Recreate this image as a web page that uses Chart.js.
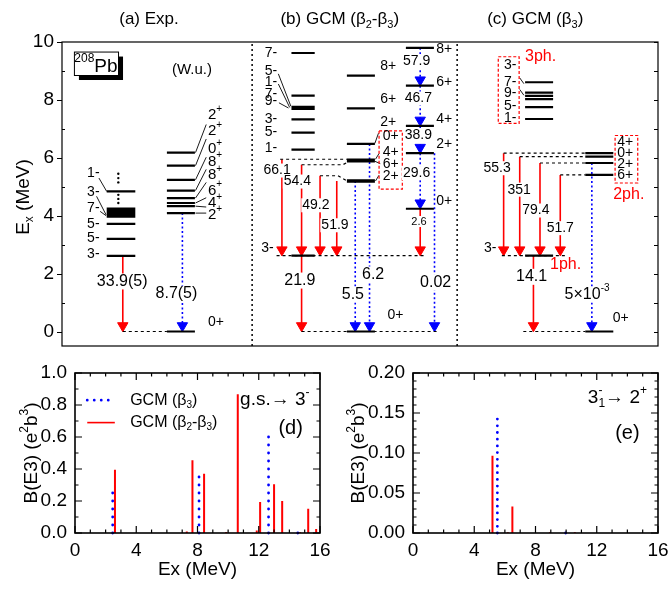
<!DOCTYPE html>
<html>
<head>
<meta charset="utf-8">
<script src="https://cdn.jsdelivr.net/npm/chart.js@4.4.0/dist/chart.umd.min.js"></script>
<style>
  body { margin: 0; background: #fff; width: 669px; height: 589px; position: relative; overflow: hidden; }
  canvas { position: absolute; }
</style>
</head>
<body>
<canvas id="scheme" width="669" height="352" style="left:0;top:0"></canvas>
<canvas id="gsE3" width="340" height="239" style="left:0;top:350px"></canvas>
<canvas id="e3to2" width="329" height="239" style="left:340px;top:350px"></canvas>
<script>
const FONT = '"Liberation Sans", Arial, sans-serif';
Chart.defaults.font.family = FONT;
Chart.defaults.color = '#000';

// ---------- level energies (MeV) ----------
const octE = 2.62;                       // 3-_1 state in every column
const expNegE = [2.61, 3.20, 3.72, 3.97, 4.04, 4.11, 4.18, 4.25, 4.84];
const expPosE = [4.09, 4.33, 4.44, 4.61, 4.87, 5.24, 5.73, 6.18];
const expDotsE = [5.45, 5.30, 5.15, 4.72, 4.58, 4.44];
const b23NegE = [9.62, 8.15, 7.76, 7.69, 7.33, 6.87, 6.28];
const b23MidE = [8.84, 7.71, 6.48, 5.94, 5.88, 5.22, 5.18];
const b23BandE = [9.80, 8.49, 7.10, 6.16, 4.24];   // 8+ 6+ 4+ 2+ 0+
const b3NegE = [8.61, 8.25, 8.14, 8.03, 7.75, 7.34];
const b3PosE = [6.16, 6.04, 5.82, 5.41];           // 4+ 0+ 2+ 6+

// ---------- transitions ----------
// [x column, E from, E to]
const redArrows = [
  [10.2, 2.61, 0],
  [36.9, 5.95, octE], [40.2, 5.76, octE], [43.3, 5.38, octE], [46.1, 5.20, octE],
  [40.2, octE, 0], [60.1, 4.24, octE],
  [74.1, 6.16, octE], [76.8, 6.04, octE], [80.2, 5.82, octE], [83.6, 5.41, octE],
  [79.1, octE, 0]
];
const blueArrows = [
  [20.2, 4.09, 0],
  [49.2, 5.20, 0], [51.6, 6.48, 0],
  [60.1, 9.80, 8.49], [60.1, 8.49, 7.10], [60.1, 7.10, 6.16], [60.1, 6.16, 4.24],
  [62.5, 6.16, 0],
  [88.9, 5.82, 0]
];

// ---------- B(E3) strengths (lower panels) ----------
const gsB3X  = [2.46, 8.10, 12.64, 14.55];
const gsB3Y  = [0.256, 0.39, 0.63, 0.025];
const gsB23X = [2.61, 7.30, 7.67, 8.43, 9.87, 10.63, 11.87, 12.09, 13.00, 13.53, 14.70, 15.23, 15.75];
const gsB23Y = [0.396, 0.010, 0.454, 0.370, 0.006, 0.867, 0.015, 0.194, 0.304, 0.200, 0.005, 0.152, 0.025];
const e3B3X  = [5.51, 9.97];
const e3B3Y  = [0.148, 0.0015];
const e3B23X = [5.19, 6.19, 6.49, 8.94, 10.57];
const e3B23Y = [0.0967, 0.001, 0.033, 0.001, 0.001];

const schemeTicks = [0, 2, 4, 6, 8, 10];
const exTicks = [0, 4, 8, 12, 16];
const gsTicks = [0, 0.2, 0.4, 0.6, 0.8, 1.0];
const e3Ticks = [0, 0.05, 0.10, 0.15, 0.20];

// ---------- layout of the level scheme (x in column units 0..100) ----------
const cols = {
  aNeg: [7.5, 12.3], aPos: [17.6, 22.3],
  bNeg: [38.5, 42.4], bMid: [47.8, 52.5], bBand: [57.7, 62.4],
  cNeg: [77.7, 82.4], cPos: [87.8, 92.5]
};
function lv(col, list) { return list.map(e => [[col[0], e], [col[1], e]]); }
function segs(polys) {
  const out = [];
  polys.forEach(p => {
    p.forEach(q => out.push({ x: q[0], y: q[1] }));
    out.push({ x: p[p.length - 1][0], y: null });
  });
  return out;
}

const levelLines = [].concat(
  lv(cols.aNeg, expNegE), lv(cols.aPos, expPosE), lv(cols.aPos, [0]),
  lv(cols.bNeg, b23NegE), lv(cols.bNeg, [octE]), lv(cols.bMid, b23MidE), lv(cols.bMid, [0]),
  lv(cols.bBand, b23BandE),
  lv(cols.cNeg, b3NegE), lv(cols.cNeg, [octE]), lv(cols.cPos, b3PosE), lv(cols.cPos, [0])
);
const dashedLines = [
  [[10.2, 0], [17.6, 0]],
  [[36.6, 5.95], [47.8, 5.95]],
  [[40.2, 5.76], [47.1, 5.76], [48.2, 5.88]],
  [[43.3, 5.38], [46.3, 5.38], [47.8, 5.20]],
  [[36.0, octE], [60.9, octE]],
  [[40.2, 0], [62.9, 0]],
  [[74.1, 6.16], [87.8, 6.16]], [[76.8, 6.04], [87.8, 6.04]],
  [[80.2, 5.82], [87.8, 5.82]], [[83.6, 5.41], [87.8, 5.41]],
  [[73.8, octE], [84.7, octE]],
  [[77.4, 0], [87.8, 0]]
];
const leaderLines = [
  [[6.2, 5.30], [7.5, 4.84]], [[5.8, 4.67], [7.4, 4.03]], [[6.4, 4.15], [7.4, 4.00]],
  [[22.4, 4.09], [24.2, 4.09]], [[22.4, 4.33], [24.2, 4.30]], [[22.4, 4.44], [24.2, 4.62]],
  [[22.4, 4.61], [24.2, 5.15]], [[22.4, 4.87], [24.2, 5.60]], [[22.4, 5.24], [24.2, 6.02]],
  [[22.4, 5.73], [24.2, 6.65]], [[22.4, 6.18], [24.2, 7.15]],
  [[36.3, 8.90], [38.4, 7.78]], [[36.3, 8.55], [38.2, 7.74]], [[36.4, 7.90], [38.0, 7.72]],
  [[52.5, 6.50], [53.1, 6.85]], [[52.6, 5.95], [53.2, 6.15]], [[52.5, 5.88], [53.4, 5.80]],
  [[52.6, 5.20], [53.2, 5.40]],
  [[76.8, 8.76], [77.5, 8.56]], [[76.8, 8.36], [77.5, 8.16]]
];
const separators = [[[31.9, -0.5], [31.9, 10]], [[66.3, -0.5], [66.3, 10]]];
const redBoxes = [[53.2, 57.1, 6.93, 4.92], [73.2, 76.7, 9.49, 7.19], [92.8, 96.6, 6.77, 5.13]]
  .map(b => [[b[0], b[2]], [b[1], b[2]], [b[1], b[3]], [b[0], b[3]], [b[0], b[2]]]);

const HEAD = 0.2;
const shaft = list => segs(list.map(a => [[a[0], a[1]], [a[0], a[2] + HEAD]]));
const heads = list => list.map(a => ({ x: a[0], y: a[2] + HEAD }));

// text: [string, x, E, size, align, color, whiteBg]
const schemeText = [
  ['(a) Exp.', 14.6, 10.77, 17, 'center'],
  ['(b) GCM (β_{2}-β_{3})', 46.6, 10.77, 17, 'center'],
  ['(c) GCM (β_{3})', 79.4, 10.77, 17, 'center'],
  ['(W.u.)', 21.8, 9.03, 15, 'center'],
  ['3-', 6.3, 2.66, 14, 'right'], ['5-', 6.3, 3.21, 14, 'right'], ['5-', 6.3, 3.71, 14, 'right'],
  ['7-', 6.3, 4.27, 14, 'right'], ['3-', 6.3, 4.80, 14, 'right'], ['1-', 6.3, 5.47, 14, 'right'],
  ['2^{+}', 24.5, 4.03, 15, 'left'], ['4^{+}', 24.5, 4.44, 15, 'left'], ['6^{+}', 24.5, 4.87, 15, 'left'],
  ['8^{+}', 24.5, 5.41, 15, 'left'], ['8^{+}', 24.5, 5.87, 15, 'left'], ['0^{+}', 24.5, 6.30, 15, 'left'],
  ['2^{+}', 24.5, 6.93, 15, 'left'], ['2^{+}', 24.5, 7.48, 15, 'left'],
  ['0+', 24.5, 0.32, 14, 'left'],
  ['33.9(5)', 10.1, 1.73, 16, 'center', '#000', true],
  ['8.7(5)', 19.2, 1.31, 16, 'center', '#000', true],
  ['7-', 36.1, 9.60, 14, 'right'], ['5-', 36.1, 8.98, 14, 'right'], ['1-', 36.1, 8.63, 14, 'right'],
  ['7-', 36.1, 8.20, 14, 'right'], ['9-', 36.1, 7.95, 14, 'right'], ['3-', 36.1, 7.33, 14, 'right'],
  ['5-', 36.1, 6.90, 14, 'right'], ['1-', 36.1, 6.32, 14, 'right'],
  ['3-', 35.5, 2.89, 14, 'right'],
  ['8+', 53.4, 9.15, 14, 'left'], ['6+', 53.4, 8.03, 14, 'left'], ['2+', 53.4, 7.22, 14, 'left'],
  ['0+', 53.8, 6.74, 14, 'left'], ['4+', 53.8, 6.20, 14, 'left'], ['6+', 53.8, 5.78, 14, 'left'],
  ['2+', 53.8, 5.36, 14, 'left'],
  ['0+', 54.6, 0.55, 14, 'left'],
  ['8+', 62.8, 9.76, 14, 'left'], ['6+', 62.8, 8.61, 14, 'left'], ['4+', 62.8, 7.34, 14, 'left'],
  ['2+', 62.8, 6.48, 14, 'left'], ['0+', 62.8, 4.49, 14, 'left'],
  ['66.1', 36.1, 5.56, 14, 'center', '#000', true], ['54.4', 39.5, 5.18, 14, 'center', '#000', true],
  ['49.2', 42.6, 4.36, 14, 'center', '#000', true], ['51.9', 45.8, 3.67, 14, 'center', '#000', true],
  ['57.9', 59.5, 9.34, 14, 'center', '#000', true], ['46.7', 59.8, 8.05, 14, 'center', '#000', true],
  ['38.9', 59.8, 6.78, 14, 'center', '#000', true], ['29.6', 59.5, 5.47, 14, 'center', '#000', true],
  ['2.6', 59.9, 3.80, 11, 'center', '#000', true],
  ['21.9', 39.9, 1.76, 16, 'center', '#000', true], ['5.5', 48.8, 1.28, 16, 'center', '#000', true],
  ['6.2', 52.2, 1.97, 16, 'center', '#000', true], ['0.02', 62.7, 1.70, 16, 'center', '#000', true],
  ['3-', 75.2, 9.20, 14, 'center'], ['7-', 75.2, 8.61, 14, 'center'], ['9-', 75.2, 8.23, 14, 'center'],
  ['5-', 75.2, 7.79, 14, 'center'], ['1-', 75.2, 7.37, 14, 'center'],
  ['3ph.', 80.3, 9.49, 16, 'center', '#ff0000'],
  ['3-', 72.9, 2.89, 14, 'right'],
  ['1ph.', 84.5, 2.31, 16, 'center', '#ff0000'],
  ['4+', 94.5, 6.54, 14, 'center'], ['0+', 94.5, 6.16, 14, 'center'], ['2+', 94.5, 5.79, 14, 'center'],
  ['6+', 94.5, 5.41, 14, 'center'],
  ['2ph.', 95.1, 4.72, 16, 'center', '#ff0000'],
  ['0+', 92.4, 0.47, 14, 'left'],
  ['55.3', 73.0, 5.64, 14, 'center', '#000', true], ['351', 76.7, 4.90, 14, 'center', '#000', true],
  ['79.4', 79.5, 4.18, 14, 'center', '#000', true], ['51.7', 83.6, 3.57, 14, 'center', '#000', true],
  ['14.1', 78.8, 1.89, 16, 'center', '#000', true],
  ['5×10^{-3}', 88.1, 1.28, 16, 'center', '#000', true]
];

// ---------- rich text (sub/superscripts) ----------
function richParts(s) {
  const parts = [];
  let i = 0;
  while (i < s.length) {
    if ((s[i] === '_' || s[i] === '^') && s[i + 1] === '{') {
      const j = s.indexOf('}', i);
      parts.push({ t: s.slice(i + 2, j), k: s[i] === '_' ? 'sub' : 'sup' });
      i = j + 1;
    } else {
      let j = i;
      while (j < s.length && !((s[j] === '_' || s[j] === '^') && s[j + 1] === '{')) j++;
      parts.push({ t: s.slice(i, j), k: 'n' });
      i = j;
    }
  }
  return parts;
}
function drawRich(ctx, s, x, y, size, align, color, bg) {
  const placed = [];
  let w = 0, prev = null;
  richParts(s).forEach(p => {
    const fs = p.k === 'n' ? size : Math.round(size * 0.65);
    ctx.font = fs + 'px ' + FONT;
    const pw = ctx.measureText(p.t).width;
    let px = w;
    if (p.k === 'sup' && prev && prev.k === 'sub') {
      px = prev.x;
      w = Math.max(prev.x + prev.w, px + pw);
    } else {
      w = px + pw;
    }
    const dy = p.k === 'sub' ? size * 0.32 : (p.k === 'sup' ? -size * 0.4 : 0);
    prev = { t: p.t, x: px, w: pw, fs: fs, dy: dy, k: p.k };
    placed.push(prev);
  });
  const x0 = align === 'center' ? x - w / 2 : (align === 'right' ? x - w : x);
  if (bg) {
    ctx.fillStyle = '#fff';
    ctx.fillRect(x0 - 1, y - size * 0.5, w + 2, size);
  }
  ctx.fillStyle = color || '#000';
  ctx.textAlign = 'left';
  ctx.textBaseline = 'middle';
  placed.forEach(it => {
    ctx.font = it.fs + 'px ' + FONT;
    ctx.fillText(it.t, x0 + it.x, y + it.dy);
  });
}

const lineDs = (data, color, width, dash) => ({
  type: 'line', data: data, borderColor: color, borderWidth: width, borderDash: dash || [],
  pointRadius: 0, spanGaps: false, fill: false, clip: false, tension: 0
});
const headDs = (data, color) => ({
  type: 'line', data: data, showLine: false, pointStyle: 'triangle', pointRotation: 180,
  pointRadius: 6, pointBackgroundColor: color, pointBorderColor: color, pointBorderWidth: 1, clip: false
});

const schemePlugin = {
  id: 'schemeDeco',
  afterDatasetsDraw(chart) {
    const { ctx, chartArea: a, scales: { x, y } } = chart;
    ctx.save();
    ctx.setLineDash([]);
    ctx.strokeStyle = '#000';
    ctx.lineWidth = 1.2;
    ctx.strokeRect(a.left, a.top, a.right - a.left, a.bottom - a.top);
    for (let e = 0; e <= 10; e++) {
      const py = Math.round(y.getPixelForValue(e)) + 0.5;
      ctx.beginPath();
      if (e % 2 === 0) { ctx.moveTo(a.left - 5, py); ctx.lineTo(a.left, py); }
      else { ctx.moveTo(a.left, py); ctx.lineTo(a.left + 3, py); }
      ctx.moveTo(a.right, py); ctx.lineTo(a.right - 4, py);
      ctx.stroke();
    }
    // 208Pb box with shadow
    const bx0 = x.getPixelForValue(2.0), bx1 = x.getPixelForValue(9.4);
    const by0 = y.getPixelForValue(9.67), by1 = y.getPixelForValue(8.86);
    ctx.fillStyle = '#000';
    ctx.fillRect(bx0 + 5, by0 + 5, bx1 - bx0, by1 - by0);
    ctx.fillStyle = '#fff';
    ctx.fillRect(bx0, by0, bx1 - bx0, by1 - by0);
    ctx.lineWidth = 1;
    ctx.strokeRect(bx0 + 0.5, by0 + 0.5, bx1 - bx0, by1 - by0);
    drawRich(ctx, '^{208}Pb', (bx0 + bx1) / 2, (by0 + by1) / 2 + 3, 19, 'center', '#000');

    schemeText.forEach(t => {
      drawRich(ctx, t[0], x.getPixelForValue(t[1]), y.getPixelForValue(t[2]), t[3], t[4], t[5], t[6]);
    });
    // y title
    ctx.translate(24, (a.top + a.bottom) / 2 + 3);
    ctx.rotate(-Math.PI / 2);
    drawRich(ctx, 'E_{x} (MeV)', 0, 0, 19, 'center', '#000');
    ctx.restore();
  }
};

new Chart(document.getElementById('scheme'), {
  type: 'line',
  data: {
    datasets: [
      lineDs(segs(separators), '#000', 1.5, [2, 3]),
      lineDs(segs(redBoxes), '#ff0000', 1.2, [3, 2]),
      lineDs(segs(dashedLines), '#000', 1.2, [3, 3]),
      lineDs(segs(leaderLines), '#000', 0.9),
      lineDs(segs(levelLines), '#000', 2.2),
      lineDs(shaft(redArrows), '#ff0000', 1.6),
      lineDs(shaft(blueArrows), '#0000ff', 1.6, [2, 2.5]),
      headDs(heads(redArrows), '#ff0000'),
      headDs(heads(blueArrows), '#0000ff'),
      { type: 'line', data: expDotsE.map(e => ({ x: 9.45, y: e })), showLine: false,
        pointRadius: 1.2, pointBackgroundColor: '#000', pointBorderWidth: 0, clip: false }
    ]
  },
  options: {
    responsive: false, animation: false, events: [],
    layout: { autoPadding: false, padding: { left: 0, right: 11, top: 42, bottom: 6 } },
    plugins: { legend: { display: false }, tooltip: { enabled: false } },
    scales: {
      x: { type: 'linear', min: 0, max: 100, display: false },
      y: {
        type: 'linear', min: -0.5, max: 10,
        afterBuildTicks: s => { s.ticks = schemeTicks.map(v => ({ value: v })); },
        afterFit: s => { s.width = 62; s.paddingTop = 0; s.paddingBottom = 0; },
        grid: { display: false, drawTicks: false }, border: { display: false },
        ticks: { font: { size: 19 }, padding: 8, color: '#000' }
      }
    }
  },
  plugins: [schemePlugin]
});

// ---------- stick charts ----------
function sticks(xs, ys) {
  const out = [];
  xs.forEach((v, i) => { out.push({ x: v, y: 0 }, { x: v, y: ys[i] }, { x: v, y: null }); });
  return out;
}
function stickChart(id, o) {
  const framePlugin = {
    id: 'frame_' + id,
    afterDatasetsDraw(chart) {
      const { ctx, chartArea: a, scales: { x, y } } = chart;
      ctx.save();
      ctx.strokeStyle = '#000';
      ctx.lineWidth = 1.6;
      ctx.setLineDash([]);
      ctx.strokeRect(a.left, a.top, a.right - a.left, a.bottom - a.top);
      ctx.lineWidth = 1.2;
      ctx.beginPath();
      for (let v = 0; v <= 16; v++) {
        const px = x.getPixelForValue(v);
        const len = v % 4 === 0 ? 7 : 3.5;
        ctx.moveTo(px, a.bottom); ctx.lineTo(px, a.bottom - len);
        ctx.moveTo(px, a.top); ctx.lineTo(px, a.top + len);
      }
      const n = Math.round(o.yMax / o.yMinor);
      for (let k = 0; k <= n; k++) {
        const v = k * o.yMinor;
        const py = y.getPixelForValue(v);
        const len = k % o.yEvery === 0 ? 7 : 3.5;
        ctx.moveTo(a.left, py); ctx.lineTo(a.left + len, py);
        ctx.moveTo(a.right, py); ctx.lineTo(a.right - len, py);
      }
      ctx.stroke();
      o.texts.forEach(t => drawRich(ctx, t[0], x.getPixelForValue(t[1]), y.getPixelForValue(t[2]), t[3], t[4], '#000'));
      if (o.legend) {
        const lx0 = x.getPixelForValue(0.8), lx1 = x.getPixelForValue(2.6);
        const r1 = y.getPixelForValue(0.83), r2 = y.getPixelForValue(0.69);
        ctx.lineCap = 'round';
        ctx.setLineDash([0, 7]);
        ctx.strokeStyle = '#0000ff';
        ctx.lineWidth = 2.8;
        ctx.beginPath(); ctx.moveTo(lx0, r1); ctx.lineTo(lx1, r1); ctx.stroke();
        ctx.lineCap = 'butt';
        ctx.setLineDash([]);
        ctx.strokeStyle = '#ff0000';
        ctx.lineWidth = 1.6;
        ctx.beginPath(); ctx.moveTo(lx0, r2); ctx.lineTo(lx1, r2); ctx.stroke();
        drawRich(ctx, 'GCM (β_{3})', x.getPixelForValue(3.6), r1, 16, 'left', '#000');
        drawRich(ctx, 'GCM (β_{2}-β_{3})', x.getPixelForValue(3.6), r2, 16, 'left', '#000');
      }
      ctx.translate(o.titleX, (a.top + a.bottom) / 2);
      ctx.rotate(-Math.PI / 2);
      drawRich(ctx, 'B(E3) (e^{2}b^{3})', 0, 0, 19, 'center', '#000');
      ctx.restore();
    }
  };
  return new Chart(document.getElementById(id), {
    type: 'line',
    data: {
      datasets: [
        { data: sticks(o.b3x, o.b3y), borderColor: '#0000ff', borderWidth: 2.8, borderDash: [0, o.dotGap],
          borderCapStyle: 'round', pointRadius: 0, spanGaps: false, clip: false },
        { data: sticks(o.b23x, o.b23y), borderColor: '#ff0000', borderWidth: 2, pointRadius: 0,
          spanGaps: false, clip: false }
      ]
    },
    options: {
      responsive: false, animation: false, events: [],
      layout: { autoPadding: false, padding: { left: 0, right: o.padRight, top: 23, bottom: 0 } },
      plugins: { legend: { display: false }, tooltip: { enabled: false } },
      scales: {
        x: {
          type: 'linear', min: 0, max: 16,
          afterBuildTicks: s => { s.ticks = exTicks.map(v => ({ value: v })); },
          afterFit: s => { s.height = 56; s.paddingLeft = 0; s.paddingRight = 0; },
          grid: { display: false, drawTicks: false }, border: { display: false },
          ticks: { font: { size: 19 }, padding: 6, color: '#000', maxRotation: 0 },
          title: { display: true, text: 'Ex (MeV)', font: { size: 19 }, color: '#000', padding: { top: 0, bottom: 8 } }
        },
        y: {
          type: 'linear', min: 0, max: o.yMax,
          afterBuildTicks: s => { s.ticks = o.yTicks.map(v => ({ value: v })); },
          afterFit: s => { s.width = o.yWidth; s.paddingTop = 0; s.paddingBottom = 0; },
          grid: { display: false, drawTicks: false }, border: { display: false },
          ticks: { font: { size: 19 }, padding: 8, color: '#000', callback: v => v.toFixed(o.dec) }
        }
      }
    },
    plugins: [framePlugin]
  });
}

stickChart('gsE3', {
  b3x: gsB3X, b3y: gsB3Y, b23x: gsB23X, b23y: gsB23Y,
  yMax: 1.0, yTicks: gsTicks, yMinor: 0.1, yEvery: 2, dec: 1,
  yWidth: 75, padRight: 20, titleX: 32, dotGap: 8, legend: true,
  texts: [['g.s.→ 3^{-}', 10.78, 0.83, 19, 'left'], ['(d)', 14.08, 0.654, 20, 'center']]
});
stickChart('e3to2', {
  b3x: e3B3X, b3y: e3B3Y, b23x: e3B23X, b23y: e3B23Y,
  yMax: 0.2, yTicks: e3Ticks, yMinor: 0.01, yEvery: 5, dec: 2,
  yWidth: 73, padRight: 11, titleX: 19, dotGap: 6.7, legend: false,
  texts: [['3_{1}^{-}→ 2^{+}', 11.42, 0.169, 19, 'left'], ['(e)', 14.0, 0.125, 20, 'center']]
});
</script>
</body>
</html>
